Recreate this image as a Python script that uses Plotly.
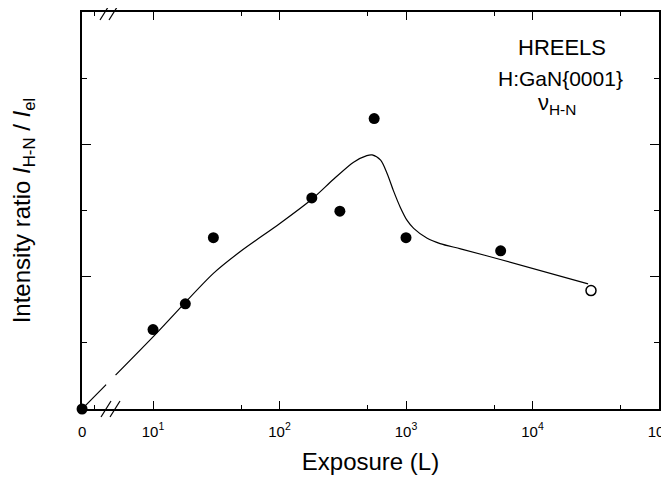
import plotly.graph_objects as go

# ---- data ----
exposure_L = [0, 10, 18, 30, 180, 300, 560, 1000, 5600]
ratio = [0.0, 1.20, 1.59, 2.59, 3.19, 2.99, 4.39, 2.59, 2.39]
open_exposure_L = [29000]
open_ratio = [1.79]

curve_exposure_L = [0, 10, 30, 49, 100, 180, 270, 385, 490, 540, 630, 710, 795,
                    900, 1020, 1150, 1470, 1860, 2700, 5570, 27500]
curve_ratio = [0.0, 1.09, 2.05, 2.38, 2.80, 3.17, 3.48, 3.73, 3.83, 3.84, 3.76,
               3.555, 3.30, 3.05, 2.85, 2.73, 2.58, 2.50, 2.42, 2.26, 1.89]

x_tick_vals = [10, 100, 1000, 10000, 100000]
x_tick_text = ["10<sup>1</sup>", "10<sup>2</sup>", "10<sup>3</sup>", "10<sup>4</sup>", "10<sup>5</sup>"]
x_minor_vals = [50, 500, 5000, 50000]
y_major_vals = [0, 2, 4, 6]
y_minor_vals = [1, 3, 5]

# broken axis: exposure 0 is drawn at this stand-in position left of the break
ZERO_LOG = 0.439
ZERO_POS = 10 ** ZERO_LOG
ZERO_MINOR = 10 ** 0.534


def brk(vals):
    return [ZERO_POS if v == 0 else v for v in vals]


FONT = "Arial, Liberation Sans, sans-serif"

fig = go.Figure()
fig.add_trace(go.Scatter(x=brk(curve_exposure_L), y=curve_ratio, mode="lines",
                         line=dict(color="black", width=1.2, shape="spline", smoothing=0.8),
                         cliponaxis=False, showlegend=False, hoverinfo="skip"))
fig.add_trace(go.Scatter(x=brk(exposure_L), y=ratio, mode="markers",
                         marker=dict(color="black", size=11, line=dict(width=0)),
                         cliponaxis=False, showlegend=False))
fig.add_trace(go.Scatter(x=open_exposure_L, y=open_ratio, mode="markers",
                         marker=dict(color="white", size=10, line=dict(color="black", width=1.5)),
                         cliponaxis=False, showlegend=False))

# page has an 8px body margin; target plot box in page pixels: x 82..659, y 12..409
OFF = 8
W, H = 669, 483
PL, PR, PT, PB = 82, 659, 12, 409
L, T = PL - OFF, PT - OFF
R, B = W - (PR - OFF), H - (PB - OFF)
pw, ph = PR - PL, PB - PT


def px(x, y):
    return (x - PL) / pw, (PB - y) / ph


shapes = []
for (x0, y0, x1, y1) in [(101, 417, 111, 401), (110, 417, 120, 401),
                         (100, 20, 110, 4), (109, 20, 119, 4)]:
    a, b = px(x0, y0)
    c, d = px(x1, y1)
    shapes.append(dict(type="line", xref="paper", yref="paper", x0=a, y0=b, x1=c, y1=d,
                       line=dict(color="black", width=1.2), layer="above"))
# gap in the fitted curve at the axis break
a, b = px(106, 384.5)
c, d = px(115.5, 375)
shapes.append(dict(type="line", xref="paper", yref="paper", x0=a, y0=b, x1=c, y1=d,
                   line=dict(color="white", width=4), layer="above"))

fig.update_layout(
    width=W, height=H,
    margin=dict(l=L, r=R, t=T, b=B, autoexpand=False),
    paper_bgcolor="white", plot_bgcolor="white",
    font=dict(family=FONT, color="black"),
    shapes=shapes,
    xaxis=dict(
        type="log", range=[ZERO_LOG - 0.0005, 5.0], automargin=False,
        tickmode="array", tickvals=[ZERO_POS] + x_tick_vals, ticktext=["0"] + x_tick_text,
        ticks="inside", ticklen=8, tickwidth=1.2, tickcolor="black",
        minor=dict(tickmode="array", tickvals=[ZERO_MINOR] + x_minor_vals, ticks="inside",
                   ticklen=4, tickwidth=1.2, tickcolor="black", showgrid=False),
        showline=True, linecolor="black", linewidth=1.5, mirror="ticks",
        showgrid=False, zeroline=False,
        tickfont=dict(size=15, family=FONT), ticklabelstandoff=8,
        title=dict(text="Exposure (L)", font=dict(size=24, family=FONT), standoff=14),
    ),
    yaxis=dict(
        range=[0, 6], automargin=False,
        tickmode="array", tickvals=y_major_vals, showticklabels=False,
        ticks="inside", ticklen=9, tickwidth=1.2, tickcolor="black",
        minor=dict(tickmode="array", tickvals=y_minor_vals, ticks="inside",
                   ticklen=5, tickwidth=1.2, tickcolor="black", showgrid=False),
        showline=True, linecolor="black", linewidth=1.5, mirror="ticks",
        showgrid=False, zeroline=False,
        title=dict(text="Intensity ratio <i>I</i><sub>H-N</sub> / <i>I</i><sub>el</sub>",
                   font=dict(size=24, family=FONT), standoff=43),
    ),
)

for text, xpix, ypix, size in [("HREELS", 562, 48, 22), ("H:GaN{0001}", 560, 78, 21),
                               ("ν<sub>H-N</sub>", 557, 104, 22)]:
    fig.add_annotation(xref="paper", yref="paper", x=(xpix - PL) / pw, y=(PB - ypix) / ph,
                       text=text, showarrow=False, xanchor="center", yanchor="middle",
                       font=dict(size=size, family=FONT, color="black"))

fig.write_html("out.html")
